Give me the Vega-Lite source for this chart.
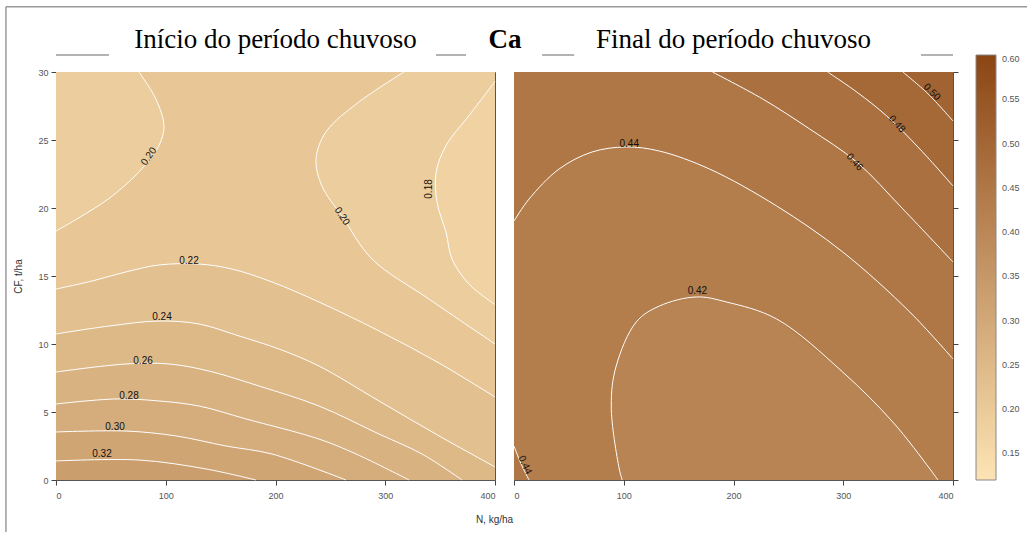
{
  "$schema": "https://vega.github.io/schema/vega-lite/v6.json",
  "padding": {"left": 4, "top": 5, "right": 0, "bottom": 0},
  "background": "white",
  "bounds": "flush",
  "spacing": 19,
  "resolve": {"scale": {"color": "shared", "x": "independent", "y": "independent"}, "legend": {"color": "shared"}},
  "datasets": {
    "L": [
      {"c": "a22", "o": 0, "N": 0, "CF": 14.04, "v": 0.23},
      {"c": "a22", "o": 1, "N": 32.8, "CF": 14.63, "v": 0.23},
      {"c": "a22", "o": 2, "N": 63.8, "CF": 15.3, "v": 0.23},
      {"c": "a22", "o": 3, "N": 93.9, "CF": 15.81, "v": 0.23},
      {"c": "a22", "o": 4, "N": 130.3, "CF": 15.88, "v": 0.23},
      {"c": "a22", "o": 5, "N": 160.4, "CF": 15.51, "v": 0.23},
      {"c": "a22", "o": 6, "N": 196.8, "CF": 14.56, "v": 0.23},
      {"c": "a22", "o": 7, "N": 239.6, "CF": 13.09, "v": 0.23},
      {"c": "a22", "o": 8, "N": 294.3, "CF": 10.96, "v": 0.23},
      {"c": "a22", "o": 9, "N": 349.0, "CF": 8.6, "v": 0.23},
      {"c": "a22", "o": 10, "N": 400, "CF": 6.1, "v": 0.23},
      {"c": "a24", "o": 0, "N": 0, "CF": 10.74, "v": 0.25},
      {"c": "a24", "o": 1, "N": 48.3, "CF": 11.32, "v": 0.25},
      {"c": "a24", "o": 2, "N": 93.9, "CF": 11.69, "v": 0.25},
      {"c": "a24", "o": 3, "N": 130.3, "CF": 11.47, "v": 0.25},
      {"c": "a24", "o": 4, "N": 166.8, "CF": 10.59, "v": 0.25},
      {"c": "a24", "o": 5, "N": 203.2, "CF": 9.63, "v": 0.25},
      {"c": "a24", "o": 6, "N": 239.6, "CF": 8.38, "v": 0.25},
      {"c": "a24", "o": 7, "N": 294.3, "CF": 5.81, "v": 0.25},
      {"c": "a24", "o": 8, "N": 349.0, "CF": 3.24, "v": 0.25},
      {"c": "a24", "o": 9, "N": 400, "CF": 0.96, "v": 0.25},
      {"c": "a26", "o": 0, "N": 0, "CF": 7.94, "v": 0.27},
      {"c": "a26", "o": 1, "N": 63.8, "CF": 8.53, "v": 0.27},
      {"c": "a26", "o": 2, "N": 103.0, "CF": 8.53, "v": 0.27},
      {"c": "a26", "o": 3, "N": 139.4, "CF": 8.01, "v": 0.27},
      {"c": "a26", "o": 4, "N": 185.0, "CF": 6.91, "v": 0.27},
      {"c": "a26", "o": 5, "N": 239.6, "CF": 5.44, "v": 0.27},
      {"c": "a26", "o": 6, "N": 294.3, "CF": 3.38, "v": 0.27},
      {"c": "a26", "o": 7, "N": 333.5, "CF": 1.91, "v": 0.27},
      {"c": "a26", "o": 8, "N": 369.9, "CF": 0, "v": 0.27},
      {"c": "a28", "o": 0, "N": 0, "CF": 5.59, "v": 0.29},
      {"c": "a28", "o": 1, "N": 54.7, "CF": 5.96, "v": 0.29},
      {"c": "a28", "o": 2, "N": 93.9, "CF": 5.81, "v": 0.29},
      {"c": "a28", "o": 3, "N": 130.3, "CF": 5.44, "v": 0.29},
      {"c": "a28", "o": 4, "N": 173.1, "CF": 4.49, "v": 0.29},
      {"c": "a28", "o": 5, "N": 239.6, "CF": 3.01, "v": 0.29},
      {"c": "a28", "o": 6, "N": 273.4, "CF": 1.91, "v": 0.29},
      {"c": "a28", "o": 7, "N": 321.7, "CF": 0, "v": 0.29},
      {"c": "a30", "o": 0, "N": 0, "CF": 3.53, "v": 0.31},
      {"c": "a30", "o": 1, "N": 63.8, "CF": 3.6, "v": 0.31},
      {"c": "a30", "o": 2, "N": 109.3, "CF": 3.24, "v": 0.31},
      {"c": "a30", "o": 3, "N": 154.9, "CF": 2.5, "v": 0.31},
      {"c": "a30", "o": 4, "N": 196.8, "CF": 1.91, "v": 0.31},
      {"c": "a30", "o": 5, "N": 264.2, "CF": 0, "v": 0.31},
      {"c": "a32", "o": 0, "N": 0, "CF": 1.4, "v": 0.33},
      {"c": "a32", "o": 1, "N": 75.6, "CF": 1.47, "v": 0.33},
      {"c": "a32", "o": 2, "N": 136.7, "CF": 0.81, "v": 0.33},
      {"c": "a32", "o": 3, "N": 182.2, "CF": 0, "v": 0.33},
      {"c": "tl20", "o": 0, "N": 0, "CF": 18.3, "v": 0.19},
      {"c": "tl20", "o": 1, "N": 48.3, "CF": 20.7, "v": 0.19},
      {"c": "tl20", "o": 2, "N": 78.4, "CF": 22.9, "v": 0.19},
      {"c": "tl20", "o": 3, "N": 93.9, "CF": 24.6, "v": 0.19},
      {"c": "tl20", "o": 4, "N": 98.4, "CF": 26.0, "v": 0.19},
      {"c": "tl20", "o": 5, "N": 91.1, "CF": 28.0, "v": 0.19},
      {"c": "tl20", "o": 6, "N": 75.6, "CF": 30, "v": 0.19},
      {"c": "r20", "o": 0, "N": 317.1, "CF": 30, "v": 0.19},
      {"c": "r20", "o": 1, "N": 276.1, "CF": 27.8, "v": 0.19},
      {"c": "r20", "o": 2, "N": 246.0, "CF": 25.6, "v": 0.19},
      {"c": "r20", "o": 3, "N": 236.9, "CF": 23.6, "v": 0.19},
      {"c": "r20", "o": 4, "N": 242.4, "CF": 21.6, "v": 0.19},
      {"c": "r20", "o": 5, "N": 260.6, "CF": 19.4, "v": 0.19},
      {"c": "r20", "o": 6, "N": 287.9, "CF": 16.25, "v": 0.19},
      {"c": "r20", "o": 7, "N": 339.9, "CF": 13.3, "v": 0.19},
      {"c": "r20", "o": 8, "N": 400, "CF": 10.0, "v": 0.19},
      {"c": "r18", "o": 0, "N": 400, "CF": 29.3, "v": 0.17},
      {"c": "r18", "o": 1, "N": 376.3, "CF": 26.8, "v": 0.17},
      {"c": "r18", "o": 2, "N": 355.4, "CF": 24.6, "v": 0.17},
      {"c": "r18", "o": 3, "N": 346.3, "CF": 22.6, "v": 0.17},
      {"c": "r18", "o": 4, "N": 347.2, "CF": 20.4, "v": 0.17},
      {"c": "r18", "o": 5, "N": 355.4, "CF": 18.2, "v": 0.17},
      {"c": "r18", "o": 6, "N": 360.8, "CF": 16.25, "v": 0.17},
      {"c": "r18", "o": 7, "N": 376.3, "CF": 14.4, "v": 0.17},
      {"c": "r18", "o": 8, "N": 400, "CF": 12.9, "v": 0.17}
    ],
    "R": [
      {"c": "b44", "o": 0, "N": 0, "CF": 19.04, "v": 0.45},
      {"c": "b44", "o": 1, "N": 13.7, "CF": 20.66, "v": 0.45},
      {"c": "b44", "o": 2, "N": 41.1, "CF": 22.87, "v": 0.45},
      {"c": "b44", "o": 3, "N": 71.2, "CF": 24.12, "v": 0.45},
      {"c": "b44", "o": 4, "N": 102.3, "CF": 24.49, "v": 0.45},
      {"c": "b44", "o": 5, "N": 132.4, "CF": 24.19, "v": 0.45},
      {"c": "b44", "o": 6, "N": 178.1, "CF": 22.87, "v": 0.45},
      {"c": "b44", "o": 7, "N": 239.3, "CF": 20.15, "v": 0.45},
      {"c": "b44", "o": 8, "N": 299.5, "CF": 16.77, "v": 0.45},
      {"c": "b44", "o": 9, "N": 360.7, "CF": 12.35, "v": 0.45},
      {"c": "b44", "o": 10, "N": 400, "CF": 8.9, "v": 0.45},
      {"c": "b46", "o": 0, "N": 180.8, "CF": 30, "v": 0.47},
      {"c": "b46", "o": 1, "N": 226.5, "CF": 28.02, "v": 0.47},
      {"c": "b46", "o": 2, "N": 269.4, "CF": 25.81, "v": 0.47},
      {"c": "b46", "o": 3, "N": 312.3, "CF": 23.38, "v": 0.47},
      {"c": "b46", "o": 4, "N": 354.3, "CF": 19.93, "v": 0.47},
      {"c": "b46", "o": 5, "N": 400, "CF": 16.03, "v": 0.47},
      {"c": "b48", "o": 0, "N": 285.8, "CF": 30, "v": 0.49},
      {"c": "b48", "o": 1, "N": 312.3, "CF": 28.53, "v": 0.49},
      {"c": "b48", "o": 2, "N": 339.7, "CF": 26.76, "v": 0.49},
      {"c": "b48", "o": 3, "N": 369.8, "CF": 24.34, "v": 0.49},
      {"c": "b48", "o": 4, "N": 400, "CF": 21.62, "v": 0.49},
      {"c": "b50", "o": 0, "N": 354.3, "CF": 30, "v": 0.51},
      {"c": "b50", "o": 1, "N": 377.2, "CF": 28.4, "v": 0.51},
      {"c": "b50", "o": 2, "N": 400, "CF": 26.4, "v": 0.51},
      {"c": "b44c", "o": 0, "N": 0, "CF": 2.5, "v": 0.45},
      {"c": "b44c", "o": 1, "N": 6.4, "CF": 1.18, "v": 0.45},
      {"c": "b44c", "o": 2, "N": 13.7, "CF": 0, "v": 0.45},
      {"c": "b42", "o": 0, "N": 98.6, "CF": 0, "v": 0.41},
      {"c": "b42", "o": 1, "N": 95.9, "CF": 0.81, "v": 0.41},
      {"c": "b42", "o": 2, "N": 88.6, "CF": 5.44, "v": 0.41},
      {"c": "b42", "o": 3, "N": 93.1, "CF": 8.38, "v": 0.41},
      {"c": "b42", "o": 4, "N": 111.4, "CF": 11.62, "v": 0.41},
      {"c": "b42", "o": 5, "N": 132.4, "CF": 12.79, "v": 0.41},
      {"c": "b42", "o": 6, "N": 166.2, "CF": 13.46, "v": 0.41},
      {"c": "b42", "o": 7, "N": 193.6, "CF": 13.09, "v": 0.41},
      {"c": "b42", "o": 8, "N": 239.3, "CF": 11.84, "v": 0.41},
      {"c": "b42", "o": 9, "N": 299.5, "CF": 7.94, "v": 0.41},
      {"c": "b42", "o": 10, "N": 345.2, "CF": 4.26, "v": 0.41},
      {"c": "b42", "o": 11, "N": 379.0, "CF": 0.81, "v": 0.41},
      {"c": "b42", "o": 12, "N": 386.3, "CF": 0, "v": 0.41}
    ],
    "in42": [
      {"CF": 0, "N": 98.6, "N2": 386.3, "v": 0.41},
      {"CF": 0.81, "N": 95.9, "N2": 379.0, "v": 0.41},
      {"CF": 4.26, "N": 90.5, "N2": 345.2, "v": 0.41},
      {"CF": 5.44, "N": 88.6, "N2": 330.5, "v": 0.41},
      {"CF": 7.94, "N": 92.4, "N2": 299.5, "v": 0.41},
      {"CF": 8.38, "N": 93.1, "N2": 292.7, "v": 0.41},
      {"CF": 11.62, "N": 111.4, "N2": 242.7, "v": 0.41},
      {"CF": 11.84, "N": 115.4, "N2": 239.3, "v": 0.41},
      {"CF": 12.79, "N": 132.4, "N2": 204.6, "v": 0.41},
      {"CF": 13.09, "N": 147.5, "N2": 193.6, "v": 0.41},
      {"CF": 13.46, "N": 166.2, "N2": 166.2, "v": 0.41}
    ]
  },
  "hconcat": [
    {
      "width": 439,
      "height": 408,
      "layer": [
        {
          "data": {"values": [{"N": 0, "N2": 400, "CF": 0, "CF2": 30, "v": 0.21}]},
          "mark": {"type": "rect"},
          "encoding": {
            "x": {"field": "N", "type": "quantitative", "scale": {"domain": [0, 400], "nice": false}, "axis": {"values": [0, 100, 200, 300, 400], "title": "N, kg/ha", "titleX": 438, "titleY": 39, "titleBaseline": "middle", "labelPadding": 6}},
            "x2": {"field": "N2"},
            "y": {"field": "CF", "type": "quantitative", "scale": {"domain": [0, 30], "nice": false}, "axis": {"values": [0, 5, 10, 15, 20, 25, 30], "title": "CF, t/ha", "titlePadding": 14}},
            "y2": {"field": "CF2"},
            "color": {"field": "v", "type": "quantitative", "scale": {"domain": [0.12, 0.6], "range": ["#fde4b4", "#8b4513"], "interpolate": "rgb"},
              "legend": {"orient": "none", "legendX": 920, "legendY": -17, "direction": "vertical", "gradientLength": 425, "gradientThickness": 20, "title": null, "values": [0.15, 0.2, 0.25, 0.3, 0.35, 0.4, 0.45, 0.5, 0.55, 0.6], "format": ".2f", "labelFontSize": 9, "labelColor": "#555", "labelFont": "Liberation Sans", "labelOffset": 6, "gradientStrokeColor": "#888", "gradientStrokeWidth": 1, "labelOverlap": false, "padding": 0}}
          }
        },
        {
          "data": {"name": "L"},
          "transform": [{"filter": "datum.c === 'tl20'"}],
          "mark": {"type": "area", "orient": "horizontal", "interpolate": "catmull-rom"},
          "encoding": {
            "x": {"field": "N", "type": "quantitative"},
            "x2": {"datum": 0},
            "y": {"field": "CF", "type": "quantitative"},
            "color": {"field": "v", "type": "quantitative", "scale": {"domain": [0.12, 0.6], "range": ["#fde4b4", "#8b4513"], "interpolate": "rgb"}}
          }
        },
        {
          "data": {"name": "L"},
          "transform": [{"filter": "datum.c === 'r20'"}],
          "mark": {"type": "area", "orient": "horizontal", "interpolate": "catmull-rom"},
          "encoding": {
            "x": {"field": "N", "type": "quantitative"},
            "x2": {"datum": 400},
            "y": {"field": "CF", "type": "quantitative"},
            "color": {"field": "v", "type": "quantitative", "scale": {"domain": [0.12, 0.6], "range": ["#fde4b4", "#8b4513"], "interpolate": "rgb"}}
          }
        },
        {
          "data": {"name": "L"},
          "transform": [{"filter": "datum.c === 'r18'"}],
          "mark": {"type": "area", "orient": "horizontal", "interpolate": "catmull-rom"},
          "encoding": {
            "x": {"field": "N", "type": "quantitative"},
            "x2": {"datum": 400},
            "y": {"field": "CF", "type": "quantitative"},
            "color": {"field": "v", "type": "quantitative", "scale": {"domain": [0.12, 0.6], "range": ["#fde4b4", "#8b4513"], "interpolate": "rgb"}}
          }
        },
        {
          "data": {"name": "L"},
          "transform": [{"filter": "datum.c === 'a22'"}],
          "mark": {"type": "area", "orient": "vertical", "interpolate": "catmull-rom"},
          "encoding": {
            "x": {"field": "N", "type": "quantitative"},
            "y": {"field": "CF", "type": "quantitative"},
            "y2": {"datum": 0},
            "color": {"field": "v", "type": "quantitative", "scale": {"domain": [0.12, 0.6], "range": ["#fde4b4", "#8b4513"], "interpolate": "rgb"}}
          }
        },
        {
          "data": {"name": "L"},
          "transform": [{"filter": "datum.c === 'a24'"}],
          "mark": {"type": "area", "orient": "vertical", "interpolate": "catmull-rom"},
          "encoding": {
            "x": {"field": "N", "type": "quantitative"},
            "y": {"field": "CF", "type": "quantitative"},
            "y2": {"datum": 0},
            "color": {"field": "v", "type": "quantitative", "scale": {"domain": [0.12, 0.6], "range": ["#fde4b4", "#8b4513"], "interpolate": "rgb"}}
          }
        },
        {
          "data": {"name": "L"},
          "transform": [{"filter": "datum.c === 'a26'"}],
          "mark": {"type": "area", "orient": "vertical", "interpolate": "catmull-rom"},
          "encoding": {
            "x": {"field": "N", "type": "quantitative"},
            "y": {"field": "CF", "type": "quantitative"},
            "y2": {"datum": 0},
            "color": {"field": "v", "type": "quantitative", "scale": {"domain": [0.12, 0.6], "range": ["#fde4b4", "#8b4513"], "interpolate": "rgb"}}
          }
        },
        {
          "data": {"name": "L"},
          "transform": [{"filter": "datum.c === 'a28'"}],
          "mark": {"type": "area", "orient": "vertical", "interpolate": "catmull-rom"},
          "encoding": {
            "x": {"field": "N", "type": "quantitative"},
            "y": {"field": "CF", "type": "quantitative"},
            "y2": {"datum": 0},
            "color": {"field": "v", "type": "quantitative", "scale": {"domain": [0.12, 0.6], "range": ["#fde4b4", "#8b4513"], "interpolate": "rgb"}}
          }
        },
        {
          "data": {"name": "L"},
          "transform": [{"filter": "datum.c === 'a30'"}],
          "mark": {"type": "area", "orient": "vertical", "interpolate": "catmull-rom"},
          "encoding": {
            "x": {"field": "N", "type": "quantitative"},
            "y": {"field": "CF", "type": "quantitative"},
            "y2": {"datum": 0},
            "color": {"field": "v", "type": "quantitative", "scale": {"domain": [0.12, 0.6], "range": ["#fde4b4", "#8b4513"], "interpolate": "rgb"}}
          }
        },
        {
          "data": {"name": "L"},
          "transform": [{"filter": "datum.c === 'a32'"}],
          "mark": {"type": "area", "orient": "vertical", "interpolate": "catmull-rom"},
          "encoding": {
            "x": {"field": "N", "type": "quantitative"},
            "y": {"field": "CF", "type": "quantitative"},
            "y2": {"datum": 0},
            "color": {"field": "v", "type": "quantitative", "scale": {"domain": [0.12, 0.6], "range": ["#fde4b4", "#8b4513"], "interpolate": "rgb"}}
          }
        },
        {
          "data": {"name": "L"},
          "mark": {"type": "line", "color": "white", "strokeWidth": 1, "interpolate": "catmull-rom"},
          "encoding": {
            "x": {"field": "N", "type": "quantitative"},
            "y": {"field": "CF", "type": "quantitative"},
            "detail": {"field": "c"},
            "order": {"field": "o", "type": "quantitative"}
          }
        },
        {
          "data": {"values": [
            {"N": 121.2, "CF": 16.1, "t": "0.22"},
            {"N": 96.6, "CF": 12.0, "t": "0.24"},
            {"N": 79.3, "CF": 8.75, "t": "0.26"},
            {"N": 66.5, "CF": 6.18, "t": "0.28"},
            {"N": 53.8, "CF": 3.9, "t": "0.30"},
            {"N": 41.9, "CF": 1.91, "t": "0.32"}
          ]},
          "mark": {"type": "text", "fontSize": 10, "color": "#111", "baseline": "middle"},
          "encoding": {"x": {"field": "N", "type": "quantitative"}, "y": {"field": "CF", "type": "quantitative"}, "text": {"field": "t"}}
        },
        {
          "data": {"values": [{"N": 84.7, "CF": 23.8, "t": "0.20"}]},
          "mark": {"type": "text", "fontSize": 10, "color": "#111", "baseline": "middle", "angle": -55},
          "encoding": {"x": {"field": "N", "type": "quantitative"}, "y": {"field": "CF", "type": "quantitative"}, "text": {"field": "t"}}
        },
        {
          "data": {"values": [{"N": 260.6, "CF": 19.4, "t": "0.20"}]},
          "mark": {"type": "text", "fontSize": 10, "color": "#111", "baseline": "middle", "angle": 57},
          "encoding": {"x": {"field": "N", "type": "quantitative"}, "y": {"field": "CF", "type": "quantitative"}, "text": {"field": "t"}}
        },
        {
          "data": {"values": [{"N": 339.9, "CF": 21.4, "t": "0.18"}]},
          "mark": {"type": "text", "fontSize": 10, "color": "#111", "baseline": "middle", "angle": -90},
          "encoding": {"x": {"field": "N", "type": "quantitative"}, "y": {"field": "CF", "type": "quantitative"}, "text": {"field": "t"}}
        },
        {
          "data": {"values": [{"N": 0, "N2": 48.3, "CF": 31.25}, {"N": 346.3, "N2": 373.6, "CF": 31.25}, {"N": -45.6, "N2": 884.8, "CF": 34.8}]},
          "mark": {"type": "rule", "color": "#9a9a9a", "strokeWidth": 1.5},
          "encoding": {"x": {"field": "N", "type": "quantitative"}, "x2": {"field": "N2"}, "y": {"field": "CF", "type": "quantitative"}}
        },
        {
          "data": {"values": [{"N": -45.6, "CF": -3.82, "CF2": 34.8}]},
          "mark": {"type": "rule", "color": "#9a9a9a", "strokeWidth": 1.5},
          "encoding": {"x": {"field": "N", "type": "quantitative"}, "y": {"field": "CF", "type": "quantitative"}, "y2": {"field": "CF2"}}
        },
        {
          "data": {"values": [{"N": 200, "CF": 31.8, "t": "Início do período chuvoso"}]},
          "mark": {"type": "text", "font": "Liberation Serif", "fontSize": 27, "baseline": "alphabetic", "color": "black"},
          "encoding": {"x": {"field": "N", "type": "quantitative"}, "y": {"field": "CF", "type": "quantitative"}, "text": {"field": "t"}}
        },
        {
          "data": {"values": [{"N": 409, "CF": 31.8, "t": "Ca"}]},
          "mark": {"type": "text", "font": "Liberation Serif", "fontSize": 27, "fontWeight": "bold", "baseline": "alphabetic", "color": "black"},
          "encoding": {"x": {"field": "N", "type": "quantitative"}, "y": {"field": "CF", "type": "quantitative"}, "text": {"field": "t"}}
        }
      ]
    },
    {
      "width": 439,
      "height": 408,
      "layer": [
        {
          "data": {"values": [{"N": 0, "N2": 400, "CF": 0, "CF2": 30, "v": 0.43}]},
          "mark": {"type": "rect"},
          "encoding": {
            "x": {"field": "N", "type": "quantitative", "scale": {"domain": [0, 400], "nice": false}, "axis": {"values": [0, 100, 200, 300, 400], "title": null, "labelPadding": 6}},
            "x2": {"field": "N2"},
            "y": {"field": "CF", "type": "quantitative", "scale": {"domain": [0, 30], "nice": false}, "axis": {"orient": "right", "values": [0, 5, 10, 15, 20, 25, 30], "labels": false, "title": null}},
            "y2": {"field": "CF2"},
            "color": {"field": "v", "type": "quantitative", "scale": {"domain": [0.12, 0.6], "range": ["#fde4b4", "#8b4513"], "interpolate": "rgb"}}
          }
        },
        {
          "data": {"name": "R"},
          "transform": [{"filter": "datum.c === 'b44'"}],
          "mark": {"type": "area", "orient": "vertical", "interpolate": "catmull-rom"},
          "encoding": {
            "x": {"field": "N", "type": "quantitative"},
            "y": {"field": "CF", "type": "quantitative"},
            "y2": {"datum": 30},
            "color": {"field": "v", "type": "quantitative", "scale": {"domain": [0.12, 0.6], "range": ["#fde4b4", "#8b4513"], "interpolate": "rgb"}}
          }
        },
        {
          "data": {"name": "R"},
          "transform": [{"filter": "datum.c === 'b46'"}],
          "mark": {"type": "area", "orient": "vertical", "interpolate": "catmull-rom"},
          "encoding": {
            "x": {"field": "N", "type": "quantitative"},
            "y": {"field": "CF", "type": "quantitative"},
            "y2": {"datum": 30},
            "color": {"field": "v", "type": "quantitative", "scale": {"domain": [0.12, 0.6], "range": ["#fde4b4", "#8b4513"], "interpolate": "rgb"}}
          }
        },
        {
          "data": {"name": "R"},
          "transform": [{"filter": "datum.c === 'b48'"}],
          "mark": {"type": "area", "orient": "vertical", "interpolate": "catmull-rom"},
          "encoding": {
            "x": {"field": "N", "type": "quantitative"},
            "y": {"field": "CF", "type": "quantitative"},
            "y2": {"datum": 30},
            "color": {"field": "v", "type": "quantitative", "scale": {"domain": [0.12, 0.6], "range": ["#fde4b4", "#8b4513"], "interpolate": "rgb"}}
          }
        },
        {
          "data": {"name": "R"},
          "transform": [{"filter": "datum.c === 'b50'"}],
          "mark": {"type": "area", "orient": "vertical", "interpolate": "catmull-rom"},
          "encoding": {
            "x": {"field": "N", "type": "quantitative"},
            "y": {"field": "CF", "type": "quantitative"},
            "y2": {"datum": 30},
            "color": {"field": "v", "type": "quantitative", "scale": {"domain": [0.12, 0.6], "range": ["#fde4b4", "#8b4513"], "interpolate": "rgb"}}
          }
        },
        {
          "data": {"name": "R"},
          "transform": [{"filter": "datum.c === 'b44c'"}],
          "mark": {"type": "area", "orient": "vertical", "interpolate": "catmull-rom"},
          "encoding": {
            "x": {"field": "N", "type": "quantitative"},
            "y": {"field": "CF", "type": "quantitative"},
            "y2": {"datum": 0},
            "color": {"field": "v", "type": "quantitative", "scale": {"domain": [0.12, 0.6], "range": ["#fde4b4", "#8b4513"], "interpolate": "rgb"}}
          }
        },
        {
          "data": {"name": "in42"},
          "mark": {"type": "area", "orient": "horizontal", "interpolate": "catmull-rom"},
          "encoding": {
            "x": {"field": "N", "type": "quantitative"},
            "x2": {"field": "N2"},
            "y": {"field": "CF", "type": "quantitative"},
            "color": {"field": "v", "type": "quantitative", "scale": {"domain": [0.12, 0.6], "range": ["#fde4b4", "#8b4513"], "interpolate": "rgb"}}
          }
        },
        {
          "data": {"name": "R"},
          "mark": {"type": "line", "color": "white", "strokeWidth": 1, "interpolate": "catmull-rom"},
          "encoding": {
            "x": {"field": "N", "type": "quantitative"},
            "y": {"field": "CF", "type": "quantitative"},
            "detail": {"field": "c"},
            "order": {"field": "o", "type": "quantitative"}
          }
        },
        {
          "data": {"values": [{"N": 105, "CF": 24.71, "t": "0.44"}, {"N": 167.1, "CF": 13.9, "t": "0.42"}]},
          "mark": {"type": "text", "fontSize": 10, "color": "#111", "baseline": "middle"},
          "encoding": {"x": {"field": "N", "type": "quantitative"}, "y": {"field": "CF", "type": "quantitative"}, "text": {"field": "t"}}
        },
        {
          "data": {"values": [{"N": 380.8, "CF": 28.53, "t": "0.50"}]},
          "mark": {"type": "text", "fontSize": 10, "color": "#111", "baseline": "middle", "angle": 45},
          "encoding": {"x": {"field": "N", "type": "quantitative"}, "y": {"field": "CF", "type": "quantitative"}, "text": {"field": "t"}}
        },
        {
          "data": {"values": [{"N": 348.9, "CF": 26.18, "t": "0.48"}, {"N": 310.5, "CF": 23.38, "t": "0.46"}]},
          "mark": {"type": "text", "fontSize": 10, "color": "#111", "baseline": "middle", "angle": 48},
          "encoding": {"x": {"field": "N", "type": "quantitative"}, "y": {"field": "CF", "type": "quantitative"}, "text": {"field": "t"}}
        },
        {
          "data": {"values": [{"N": 10, "CF": 1.1, "t": "0.44"}]},
          "mark": {"type": "text", "fontSize": 10, "color": "#111", "baseline": "middle", "angle": 65},
          "encoding": {"x": {"field": "N", "type": "quantitative"}, "y": {"field": "CF", "type": "quantitative"}, "text": {"field": "t"}}
        },
        {
          "data": {"values": [{"N": 25.6, "N2": 54.8, "CF": 31.25}, {"N": 370.8, "N2": 400, "CF": 31.25}]},
          "mark": {"type": "rule", "color": "#9a9a9a", "strokeWidth": 1.5},
          "encoding": {"x": {"field": "N", "type": "quantitative"}, "x2": {"field": "N2"}, "y": {"field": "CF", "type": "quantitative"}}
        },
        {
          "data": {"values": [{"N": 200, "CF": 31.8, "t": "Final do período chuvoso"}]},
          "mark": {"type": "text", "font": "Liberation Serif", "fontSize": 27, "baseline": "alphabetic", "color": "black"},
          "encoding": {"x": {"field": "N", "type": "quantitative"}, "y": {"field": "CF", "type": "quantitative"}, "text": {"field": "t"}}
        }
      ]
    }
  ],
  "config": {
    "view": {"stroke": "#555", "strokeWidth": 1},
    "axis": {"grid": false, "domain": false, "tickColor": "#444", "tickSize": 5, "labelFont": "Liberation Sans", "labelFontSize": 9, "labelColor": "#555", "labelPadding": 3, "titleFont": "Liberation Sans", "titleFontSize": 10, "titleFontWeight": "normal", "titleColor": "#333"},
    "text": {"font": "Liberation Sans"}
  }
}
